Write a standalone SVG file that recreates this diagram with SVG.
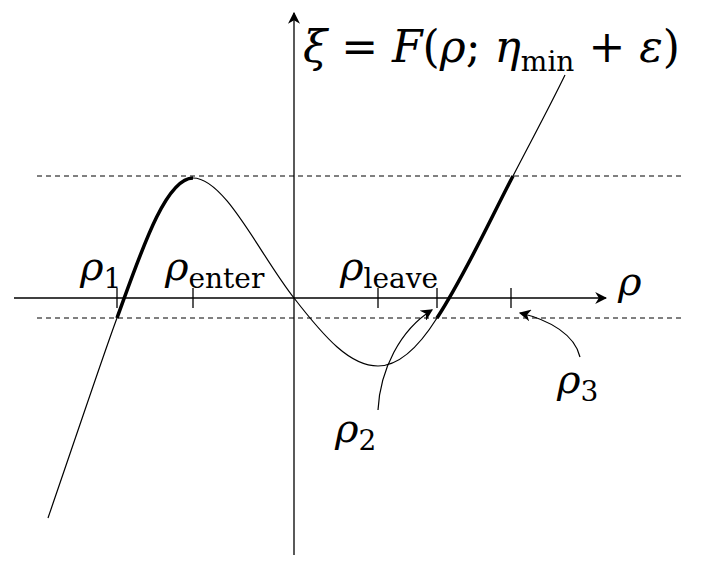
<svg xmlns="http://www.w3.org/2000/svg" width="706" height="565" viewBox="0 0 706 565">
<style>
.ax{stroke:#000;stroke-width:1.3;fill:none}
.cv{stroke:#000;stroke-width:1.2;fill:none}
.th{stroke:#000;stroke-width:3.5;fill:none}
.ds{stroke:#000;stroke-width:1;stroke-dasharray:5,4;fill:none}
.t{font-family:"DejaVu Serif","Liberation Serif",serif;fill:#000}
.i{font-style:italic}
</style>
<defs>
<marker id="ah" viewBox="0 0 10 10" refX="9" refY="5" markerWidth="12" markerHeight="12" markerUnits="userSpaceOnUse" orient="auto">
<path d="M0,0 L10,5 L0,10 L3,5 Z" fill="#000"/>
</marker>
</defs>
<g id="axes">
<line class="ax" x1="14" y1="298" x2="606" y2="298" marker-end="url(#ah)"/>
<line class="ax" x1="294" y1="555" x2="294" y2="13" marker-end="url(#ah)"/>
<line class="ds" x1="37" y1="176" x2="685" y2="176"/>
<line class="ds" x1="37" y1="318" x2="685" y2="318"/>
</g>
<g id="ticks" class="ax">
<line x1="117" y1="288" x2="117" y2="308"/>
<line x1="193" y1="288" x2="193" y2="308"/>
<line x1="378" y1="288" x2="378" y2="308"/>
<line x1="437" y1="288" x2="437" y2="308"/>
<line x1="511" y1="288" x2="511" y2="308"/>
</g>
<g id="curve">
<path class="cv" d="M48,518 C80,425 105,350 117,318 C140,255 165,178 193,178 C225,178 260,255 294,298 C325,338 350,366 378,366 C400,366 420,345 437,318 C465,275 490,220 513,176 C530,143 548,110 565,75"/>
<path class="th" d="M117,318 C140,255 165,178 193,178"/>
<path class="th" d="M437,318 C465,275 490,220 513,176"/>
</g>
<g id="connectors">
<path class="cv" d="M378,410 C380,370 400,330 432,310" marker-end="url(#ah)"/>
<path class="cv" d="M580,357 C575,335 550,320 520,313" marker-end="url(#ah)"/>
</g>
<g id="labels">
<text class="t" x="303" y="62" font-size="44"><tspan class="i">ξ</tspan> = <tspan class="i">F</tspan>(<tspan class="i">ρ</tspan>; <tspan class="i">η</tspan><tspan font-size="28" dy="9">min</tspan><tspan dy="-9"> + </tspan><tspan class="i">ε</tspan>)</text>
<text class="t" x="80" y="280" font-size="40"><tspan class="i">ρ</tspan><tspan font-size="28" dy="8">1</tspan></text>
<text class="t" x="165" y="280" font-size="40"><tspan class="i">ρ</tspan><tspan font-size="28" dy="8">enter</tspan></text>
<text class="t" x="340" y="280" font-size="40"><tspan class="i">ρ</tspan><tspan font-size="28" dy="8">leave</tspan></text>
<text class="t i" x="618" y="295" font-size="40">ρ</text>
<text class="t" x="335" y="442" font-size="40"><tspan class="i">ρ</tspan><tspan font-size="28" dy="8">2</tspan></text>
<text class="t" x="557" y="393" font-size="40"><tspan class="i">ρ</tspan><tspan font-size="28" dy="8">3</tspan></text>
</g>
</svg>
